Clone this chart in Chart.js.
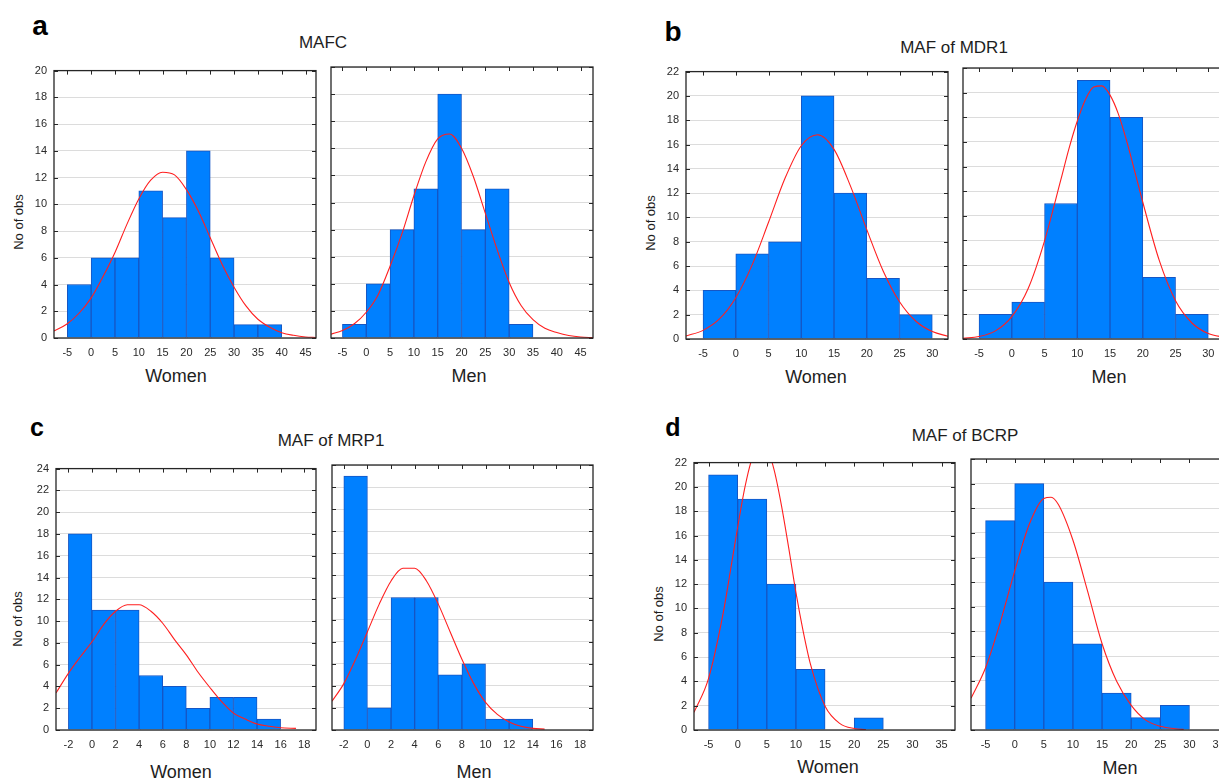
<!DOCTYPE html>
<html>
<head>
<meta charset="utf-8">
<script src="https://cdn.jsdelivr.net/npm/chart.js@4.4.0/dist/chart.umd.min.js"></script>
<style>
  html, body { margin: 0; padding: 0; background: #fff; }
  body { width: 1219px; height: 781px; position: relative; overflow: hidden;
         font-family: "Liberation Sans", Arial, sans-serif; color: #1e1e1e; }
  canvas { position: absolute; }
  .txt { position: absolute; white-space: nowrap; line-height: 1; transform: translate(-50%, -50%); }
  .letter { font-weight: bold; color: #000; }
  .title { font-size: 17px; }
  .xtitle { font-size: 18px; }
  .ytitle { font-size: 13px; transform: translate(-50%, -50%) rotate(-90deg); }
</style>
</head>
<body>

<div class="txt letter" style="left:40px; top:26px; font-size:28px;">a</div>
<div class="txt letter" style="left:673px; top:32px; font-size:28px;">b</div>
<div class="txt letter" style="left:37px; top:427px; font-size:25px;">c</div>
<div class="txt letter" style="left:673px; top:427px; font-size:25px;">d</div>

<div class="txt title" style="left:323px; top:42px;">MAFC</div>
<div class="txt title" style="left:954px; top:47px;">MAF of MDR1</div>
<div class="txt title" style="left:331px; top:440px;">MAF of MRP1</div>
<div class="txt title" style="left:965px; top:435px;">MAF of BCRP</div>

<div class="txt ytitle" style="left:18px; top:222px;">No of obs</div>
<div class="txt ytitle" style="left:650px; top:223px;">No of obs</div>
<div class="txt ytitle" style="left:17px; top:619px;">No of obs</div>
<div class="txt ytitle" style="left:658px; top:614px;">No of obs</div>

<div class="txt xtitle" style="left:176px; top:376px;">Women</div>
<div class="txt xtitle" style="left:469px; top:376px;">Men</div>
<div class="txt xtitle" style="left:816px; top:377px;">Women</div>
<div class="txt xtitle" style="left:1109px; top:377px;">Men</div>
<div class="txt xtitle" style="left:181px; top:772px;">Women</div>
<div class="txt xtitle" style="left:474px; top:772px;">Men</div>
<div class="txt xtitle" style="left:828px; top:767px;">Women</div>
<div class="txt xtitle" style="left:1120px; top:768px;">Men</div>

<canvas id="aW" width="310" height="311" style="left:14px; top:57px;"></canvas>
<canvas id="aM" width="274" height="311" style="left:327px; top:57px;"></canvas>
<canvas id="bW" width="310" height="311" style="left:646px; top:58px;"></canvas>
<canvas id="bM" width="274" height="311" style="left:959px; top:58px;"></canvas>
<canvas id="cW" width="308" height="305" style="left:16px; top:455px;"></canvas>
<canvas id="cM" width="273" height="305" style="left:328px; top:455px;"></canvas>
<canvas id="dW" width="309" height="311" style="left:654px; top:449px;"></canvas>
<canvas id="dM" width="273" height="311" style="left:967px; top:449px;"></canvas>

<script>
// ---- a: MAFC ----
const mafcTicksX = [-5, 0, 5, 10, 15, 20, 25, 30, 35, 40, 45];
const mafcTicksY = [0, 2, 4, 6, 8, 10, 12, 14, 16, 18, 20];
const mafcBins = [-2.5, 2.5, 7.5, 12.5, 17.5, 22.5, 27.5, 32.5, 37.5];
const mafcWomen = [4, 6, 6, 11, 9, 14, 6, 1, 1];
const mafcMen = [1, 4, 8, 11, 18, 8, 11, 1, 0];
const mafcWomenCurveX = [-7.8, -5, -2.5, 0, 2.5, 5, 7.5, 10, 12.5, 15, 17.5, 20, 22.5, 25, 27.5, 30, 32.5, 35, 37.5, 40, 42.5, 45, 47.2];
const mafcWomenCurveY = [0.53, 1.07, 1.87, 3.0, 4.6, 6.4, 8.5, 10.4, 11.8, 12.4, 12.2, 11.1, 9.5, 7.5, 5.5, 3.8, 2.4, 1.4, 0.8, 0.4, 0.2, 0.08, 0.04];
const mafcMenCurveX = [-7.4, -5, -2.5, 0, 2.5, 5, 7.5, 10, 12.5, 15, 17.5, 20, 22.5, 25, 27.5, 30, 32.5, 35, 37.5, 40, 42.5, 45, 47.6];
const mafcMenCurveY = [0.28, 0.55, 1.05, 1.9, 3.2, 5.3, 7.7, 10.5, 13.0, 14.7, 15.06, 14.0, 11.9, 9.2, 6.5, 4.1, 2.4, 1.35, 0.72, 0.4, 0.18, 0.07, 0.03];

// ---- b: MAF of MDR1 ----
const mdr1TicksX = [-5, 0, 5, 10, 15, 20, 25, 30];
const mdr1TicksY = [0, 2, 4, 6, 8, 10, 12, 14, 16, 18, 20, 22];
const mdr1Bins = [-2.5, 2.5, 7.5, 12.5, 17.5, 22.5, 27.5];
const mdr1Women = [4, 7, 8, 20, 12, 5, 2];
const mdr1Men = [2, 3, 11, 21, 18, 5, 2];
const mdr1WomenCurveX = [-7.6, -5, -2.5, 0, 2.5, 5, 7.5, 10, 12.5, 15, 17.5, 20, 22.5, 25, 27.5, 30, 32.4];
const mdr1WomenCurveY = [0.25, 0.71, 1.65, 3.4, 6.1, 9.6, 13.2, 15.9, 16.8, 15.6, 12.6, 9.0, 5.6, 3.06, 1.46, 0.61, 0.23];
const mdr1MenCurveX = [-7.45, -5, -2.5, 0, 2.5, 5, 7.5, 8.75, 10, 11.25, 12.5, 13.75, 15, 16.25, 17.5, 20, 22.5, 25, 27.5, 30, 32.55];
const mdr1MenCurveY = [0.05, 0.2, 0.66, 1.82, 4.1, 7.97, 12.95, 15.5, 17.7, 19.45, 20.45, 20.55, 19.8, 18.3, 16.15, 11.1, 6.4, 3.1, 1.3, 0.44, 0.13];

// ---- c: MAF of MRP1 ----
const mrp1TicksX = [-2, 0, 2, 4, 6, 8, 10, 12, 14, 16, 18];
const mrp1TicksY = [0, 2, 4, 6, 8, 10, 12, 14, 16, 18, 20, 22, 24];
const mrp1Bins = [-1, 1, 3, 5, 7, 9, 11, 13, 15];
const mrp1Women = [18, 11, 11, 5, 4, 2, 3, 3, 1];
const mrp1Men = [23, 2, 12, 12, 5, 6, 1, 1, 0];
const mrp1WomenCurveX = [-3.05, -2, -1, 0, 1, 2, 3, 4, 5, 6, 7, 8, 9, 10, 11, 12, 13, 14, 15, 16, 17.3];
const mrp1WomenCurveY = [3.4, 5.2, 6.7, 8.1, 9.7, 10.9, 11.5, 11.5, 10.9, 9.8, 8.3, 6.9, 5.3, 3.9, 2.6, 1.55, 1.0, 0.55, 0.35, 0.2, 0.15];
const mrp1MenCurveX = [-3, -2, -1, 0, 1, 2, 3, 4, 5, 6, 7, 8, 9, 10, 11, 12, 13, 14, 15];
const mrp1MenCurveY = [2.6, 4.2, 6.4, 8.9, 11.4, 13.5, 14.65, 14.65, 13.5, 11.4, 8.9, 6.4, 4.2, 2.5, 1.42, 0.73, 0.34, 0.15, 0.08];

// ---- d: MAF of BCRP ----
const bcrpTicksX = [-5, 0, 5, 10, 15, 20, 25, 30, 35];
const bcrpTicksY = [0, 2, 4, 6, 8, 10, 12, 14, 16, 18, 20, 22];
const bcrpBins = [-2.5, 2.5, 7.5, 12.5, 17.5, 22.5, 27.5];
const bcrpWomen = [21, 19, 12, 5, 0, 1, 0];
const bcrpMen = [17, 20, 12, 7, 3, 1, 2];
const bcrpWomenCurveX = [-7.5, -5, -2.5, -1.25, 0, 1.25, 2.5, 3.75, 5, 6.25, 7.5, 8.75, 10, 11.25, 12.5, 15, 17.5, 20, 22];
const bcrpWomenCurveY = [1.45, 4.25, 9.6, 13.1, 16.7, 20.0, 22.4, 23.55, 23.2, 21.4, 18.5, 15.0, 11.3, 8.1, 5.4, 1.96, 0.55, 0.12, 0.03];
const bcrpMenCurveX = [-7.5, -5, -2.5, 0, 2.5, 5, 6.25, 7.5, 10, 12.5, 15, 17.5, 20, 22.5, 25, 27.5, 29];
const bcrpMenCurveY = [2.57, 5.05, 8.7, 12.9, 16.7, 18.8, 18.9, 18.3, 15.4, 11.3, 7.0, 3.95, 2.0, 0.8, 0.3, 0.1, 0.05];

const BAR_FILL = '#0080ff';
const BAR_EDGE = '#1656c4';
const CURVE = '#ff1f1f';
const GRID = '#dcdcdc';
const FRAME = '#262626';
const TICK_FONT = { family: '"Liberation Sans", Arial, sans-serif', size: 11 };
const TICK_COLOR = '#2a2a2a';

// frame round the plot and short inward tick marks on top, left and right
const framePlugin = {
  id: 'frame',
  afterDatasetsDraw(chart) {
    const { ctx, chartArea: a, scales } = chart;
    ctx.save();
    ctx.strokeStyle = FRAME;
    ctx.lineWidth = 1;
    scales.y.ticks.forEach((t) => {
      const y = Math.round(scales.y.getPixelForValue(t.value)) + 0.5;
      ctx.beginPath();
      ctx.moveTo(a.left, y); ctx.lineTo(a.left + 4, y);
      ctx.moveTo(a.right - 4, y); ctx.lineTo(a.right, y);
      ctx.stroke();
    });
    scales.x.ticks.forEach((t) => {
      const x = Math.round(scales.x.getPixelForValue(t.value)) + 0.5;
      ctx.beginPath();
      ctx.moveTo(x, a.top); ctx.lineTo(x, a.top + 4);
      ctx.stroke();
    });
    ctx.lineWidth = 1.3;
    ctx.strokeRect(a.left, a.top, a.right - a.left, a.bottom - a.top);
    ctx.restore();
  },
};

function makeHistogram(id, cfg) {
  const el = document.getElementById(id);
  new Chart(el, {
    type: 'bar',
    data: {
      datasets: [
        {
          type: 'line',
          data: cfg.curveX.map((x, i) => ({ x, y: cfg.curveY[i] })),
          borderColor: CURVE,
          borderWidth: 1.1,
          pointRadius: 0,
          fill: false,
          cubicInterpolationMode: 'monotone',
          order: 0,
        },
        {
          type: 'bar',
          data: cfg.bins.map((x, i) => ({ x, y: cfg.counts[i] })),
          backgroundColor: BAR_FILL,
          borderColor: BAR_EDGE,
          borderWidth: 1,
          barPercentage: 1,
          categoryPercentage: 1,
          order: 1,
        },
      ],
    },
    options: {
      responsive: false,
      animation: false,
      events: [],
      layout: { padding: { top: 10, right: 8, left: 0, bottom: 0 } },
      plugins: { legend: { display: false }, tooltip: { enabled: false } },
      scales: {
        x: {
          type: 'linear',
          min: cfg.xMin,
          max: cfg.xMax,
          offset: false,
          grid: { display: false, drawTicks: false },
          border: { display: false },
          ticks: { font: TICK_FONT, color: TICK_COLOR, padding: 8, maxRotation: 0, autoSkip: false },
          afterBuildTicks: (s) => { s.ticks = cfg.ticksX.map((v) => ({ value: v })); },
          afterFit: (s) => { s.height = 30; },
        },
        y: {
          type: 'linear',
          min: 0,
          max: cfg.ticksY[cfg.ticksY.length - 1],
          grid: { color: GRID, lineWidth: 1, drawTicks: false },
          border: { display: false },
          ticks: { display: cfg.showY, font: TICK_FONT, color: TICK_COLOR, padding: 7 },
          afterBuildTicks: (s) => { s.ticks = cfg.ticksY.map((v) => ({ value: v })); },
          afterFit: (s) => { s.width = cfg.showY ? 40 : 4; },
        },
      },
    },
    plugins: [framePlugin],
  });
}

makeHistogram('aW', { xMin: -7.8, xMax: 47.2, ticksX: mafcTicksX, ticksY: mafcTicksY, bins: mafcBins, counts: mafcWomen, curveX: mafcWomenCurveX, curveY: mafcWomenCurveY, showY: true });
makeHistogram('aM', { xMin: -7.4, xMax: 47.6, ticksX: mafcTicksX, ticksY: mafcTicksY, bins: mafcBins, counts: mafcMen, curveX: mafcMenCurveX, curveY: mafcMenCurveY, showY: false });
makeHistogram('bW', { xMin: -7.6, xMax: 32.4, ticksX: mdr1TicksX, ticksY: mdr1TicksY, bins: mdr1Bins, counts: mdr1Women, curveX: mdr1WomenCurveX, curveY: mdr1WomenCurveY, showY: true });
makeHistogram('bM', { xMin: -7.45, xMax: 32.55, ticksX: mdr1TicksX, ticksY: mdr1TicksY, bins: mdr1Bins, counts: mdr1Men, curveX: mdr1MenCurveX, curveY: mdr1MenCurveY, showY: false });
makeHistogram('cW', { xMin: -3.05, xMax: 19.0, ticksX: mrp1TicksX, ticksY: mrp1TicksY, bins: mrp1Bins, counts: mrp1Women, curveX: mrp1WomenCurveX, curveY: mrp1WomenCurveY, showY: true });
makeHistogram('cM', { xMin: -3.0, xMax: 19.1, ticksX: mrp1TicksX, ticksY: mrp1TicksY, bins: mrp1Bins, counts: mrp1Men, curveX: mrp1MenCurveX, curveY: mrp1MenCurveY, showY: false });
makeHistogram('dW', { xMin: -7.5, xMax: 37.3, ticksX: bcrpTicksX, ticksY: bcrpTicksY, bins: bcrpBins, counts: bcrpWomen, curveX: bcrpWomenCurveX, curveY: bcrpWomenCurveY, showY: true });
makeHistogram('dM', { xMin: -7.5, xMax: 37.3, ticksX: bcrpTicksX, ticksY: bcrpTicksY, bins: bcrpBins, counts: bcrpMen, curveX: bcrpMenCurveX, curveY: bcrpMenCurveY, showY: false });
</script>
</body>
</html>
